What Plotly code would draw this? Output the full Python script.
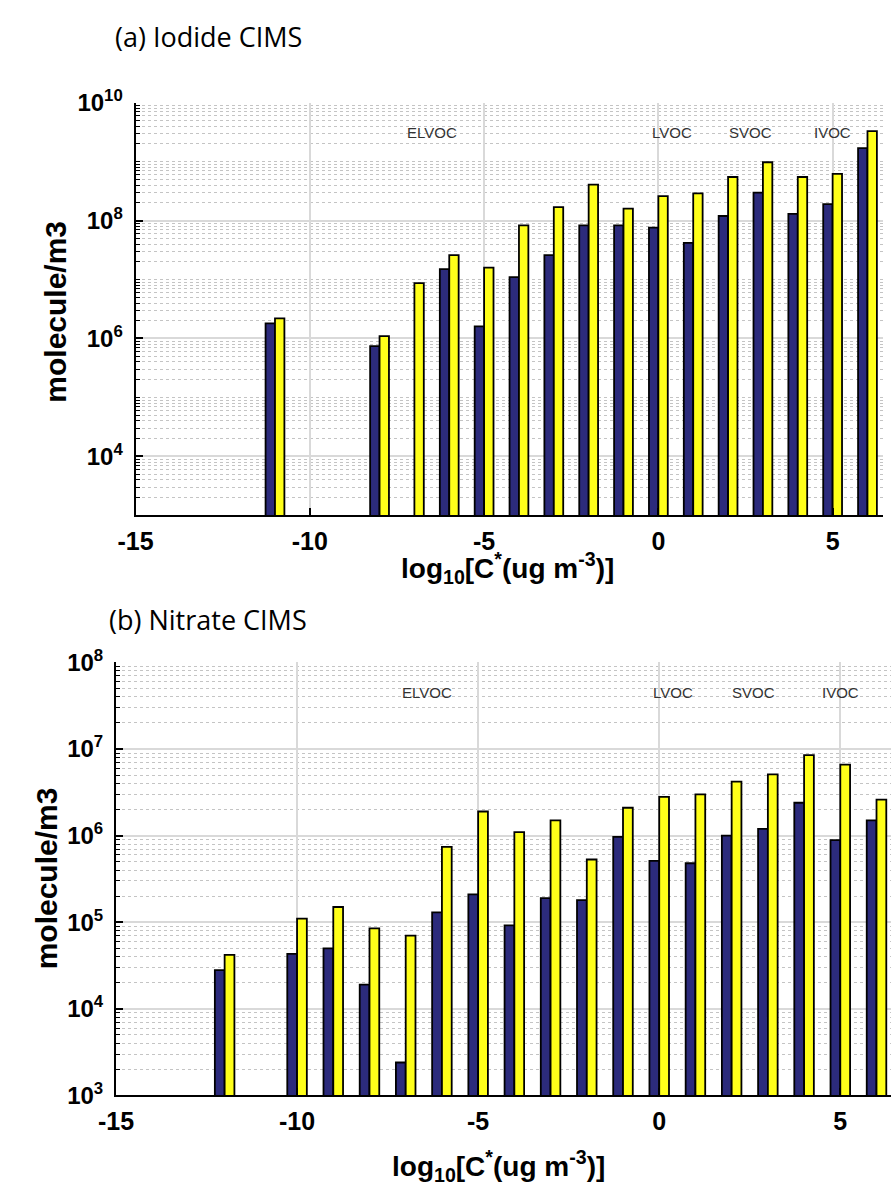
import plotly.graph_objects as go

W, H = 891, 1202

# ---------------- data ----------------
x_top = [-11, -8, -7, -6, -5, -4, -3, -2, -1, 0, 1, 2, 3, 4, 5, 6]
blue_top = [1.8e6, 7.4e5, None, 1.5e7, 1.6e6, 1.1e7, 2.6e7, 8.3e7, 8.3e7, 7.6e7,
            4.2e7, 1.2e8, 3.0e8, 1.3e8, 1.9e8, 1.7e9]
yellow_top = [2.2e6, 1.1e6, 8.7e6, 2.6e7, 1.6e7, 8.3e7, 1.7e8, 4.1e8, 1.6e8, 2.6e8,
              2.9e8, 5.5e8, 9.8e8, 5.5e8, 6.2e8, 3.3e9]

x_bot = [-12, -10, -9, -8, -7, -6, -5, -4, -3, -2, -1, 0, 1, 2, 3, 4, 5, 6]
blue_bot = [2.8e4, 4.3e4, 5.0e4, 1.9e4, 2.4e3, 1.3e5, 2.1e5, 9.2e4, 1.9e5, 1.8e5,
            9.7e5, 5.1e5, 4.8e5, 1.0e6, 1.2e6, 2.4e6, 8.9e5, 1.5e6]
yellow_bot = [4.2e4, 1.1e5, 1.5e5, 8.5e4, 7.0e4, 7.4e5, 1.9e6, 1.1e6, 1.5e6, 5.3e5,
              2.1e6, 2.8e6, 3.0e6, 4.2e6, 5.1e6, 8.5e6, 6.6e6, 2.6e6]

class_labels = ["ELVOC", "LVOC", "SVOC", "IVOC"]
class_x_top = [-6.5, 0.4, 2.65, 5.0]
class_x_bot = [-6.4, 0.38, 2.6, 5.0]

xticks = [-15, -10, -5, 0, 5]
yticks_top = [1e4, 1e6, 1e8, 1e10]
yticks_top_text = ["<b>10<sup>%d</sup></b>" % k for k in [4, 6, 8, 10]]
yticks_bot = [1e3, 1e4, 1e5, 1e6, 1e7, 1e8]
yticks_bot_text = ["<b>10<sup>%d</sup></b>" % k for k in [3, 4, 5, 6, 7, 8]]

BLUE = "#2c2b7c"
YELLOW = "#ffff1a"
BW = 0.27
FONT = "Liberation Sans, Arial"

fig = go.Figure()

def add_bars(x, b, y, xa, ya):
    fig.add_trace(go.Bar(x=x, y=b, width=BW, offset=-BW, marker=dict(color=BLUE,
                  line=dict(color="black", width=1.8)), xaxis=xa, yaxis=ya, showlegend=False))
    fig.add_trace(go.Bar(x=x, y=y, width=BW, offset=0, marker=dict(color=YELLOW,
                  line=dict(color="black", width=1.8)), xaxis=xa, yaxis=ya, showlegend=False))

add_bars(x_top, blue_top, yellow_top, "x", "y")
add_bars(x_bot, blue_bot, yellow_bot, "x2", "y2")

def minor_vals(k0, k1, skip_major):
    vals = []
    for k in range(k0, k1):
        base = 10 ** k
        if k != k0:
            vals.append(base)
        for m in range(2, 10):
            vals.append(m * base)
    return [v for v in vals if v not in skip_major]

minor_top = minor_vals(3, 10, yticks_top)
minor_bot = minor_vals(3, 8, yticks_bot)

xtickfont = dict(family=FONT, size=25, color="black", weight="bold")
ytickfont = dict(family=FONT, size=24, color="black", weight="bold")
xtitlefont = dict(family=FONT, size=28, color="black")
ytitlefont = dict(family=FONT, size=30, color="black")

def xaxis_cfg(domain, rng):
    return dict(domain=domain, range=rng, tickvals=xticks,
                ticktext=["<b>%d</b>" % v for v in xticks],
                showline=True, linecolor="black", linewidth=2, ticks="inside", ticklen=7,
                tickcolor="black", tickwidth=1.5, showgrid=True, gridcolor="#d9d9d9", gridwidth=1.5,
                zeroline=False, tickfont=xtickfont, fixedrange=True, ticklabelstandoff=3)

def yaxis_cfg(domain, rng, tv, tt, mv, anchor):
    return dict(type="log", domain=domain, range=rng, tickvals=tv, ticktext=tt,
                showline=True, linecolor="black", linewidth=2, ticks="inside", ticklen=7,
                tickcolor="black", tickwidth=1.5, showgrid=True, gridcolor="#d9d9d9", gridwidth=1.5,
                zeroline=False, tickfont=ytickfont, anchor=anchor, ticklabelstandoff=6,
                minor=dict(tickmode="array", tickvals=mv, ticks="inside", ticklen=4,
                           tickcolor="black", tickwidth=1, showgrid=True,
                           gridcolor="#c4c4c4", griddash="dot", gridwidth=1.2))

fig.update_layout(
    width=W, height=H, margin=dict(l=0, r=0, t=0, b=0),
    paper_bgcolor="white", plot_bgcolor="white", barmode="overlay",
    xaxis=xaxis_cfg([120 / W, 883 / W], [-15, 6.45]) | dict(anchor="y"),
    yaxis=yaxis_cfg([1 - 511 / H, 1 - 88 / H], [3, 10], yticks_top, yticks_top_text, minor_top, "x"),
    xaxis2=xaxis_cfg([100 / W, 1.0], [-15, 6.4]) | dict(anchor="y2"),
    yaxis2=yaxis_cfg([1 - 1106 / H, 1 - 662 / H], [3, 8], yticks_bot, yticks_bot_text, minor_bot, "x2"),
)

ann = []
for lab, cx in zip(class_labels, class_x_top):
    ann.append(dict(x=cx, y=9.5, xref="x", yref="y", text=lab, showarrow=False,
                    xanchor="center", yanchor="middle",
                    font=dict(family=FONT, size=15, color="#333")))
for lab, cx in zip(class_labels, class_x_bot):
    ann.append(dict(x=cx, y=7.65, xref="x2", yref="y2", text=lab, showarrow=False,
                    xanchor="center", yanchor="middle",
                    font=dict(family=FONT, size=15, color="#333")))

xtitle = "<b>log<sub>10</sub>[C<sup>*</sup>(ug m<sup>-3</sup>)]</b>"
ann.append(dict(x=500 / W, y=1 - 565 / H, xref="paper", yref="paper", text=xtitle,
                showarrow=False, xanchor="center", yanchor="middle", font=xtitlefont))
ann.append(dict(x=490 / W, y=1 - 1178 / H, xref="paper", yref="paper", text=xtitle,
                showarrow=False, xanchor="center", yanchor="middle", font=xtitlefont))
ann.append(dict(x=38 / W, y=1 - 302 / H, xref="paper", yref="paper", text="<b>molecule/m3</b>",
                showarrow=False, textangle=-90, xanchor="center", yanchor="middle", font=ytitlefont))
ann.append(dict(x=30 / W, y=1 - 883 / H, xref="paper", yref="paper", text="<b>molecule/m3</b>",
                showarrow=False, textangle=-90, xanchor="center", yanchor="middle", font=ytitlefont))
ann.append(dict(x=194 / W, y=1 - 20 / H, xref="paper", yref="paper", text="(a) Iodide CIMS",
                showarrow=False, xanchor="center", yanchor="middle",
                font=dict(family="Open Sans", size=27, color="black")))
ann.append(dict(x=194 / W, y=1 - 618 / H, xref="paper", yref="paper", text="(b) Nitrate CIMS",
                showarrow=False, xanchor="center", yanchor="middle",
                font=dict(family="Open Sans", size=27, color="black")))
fig.update_layout(annotations=ann)

fig.write_html("out.html")
